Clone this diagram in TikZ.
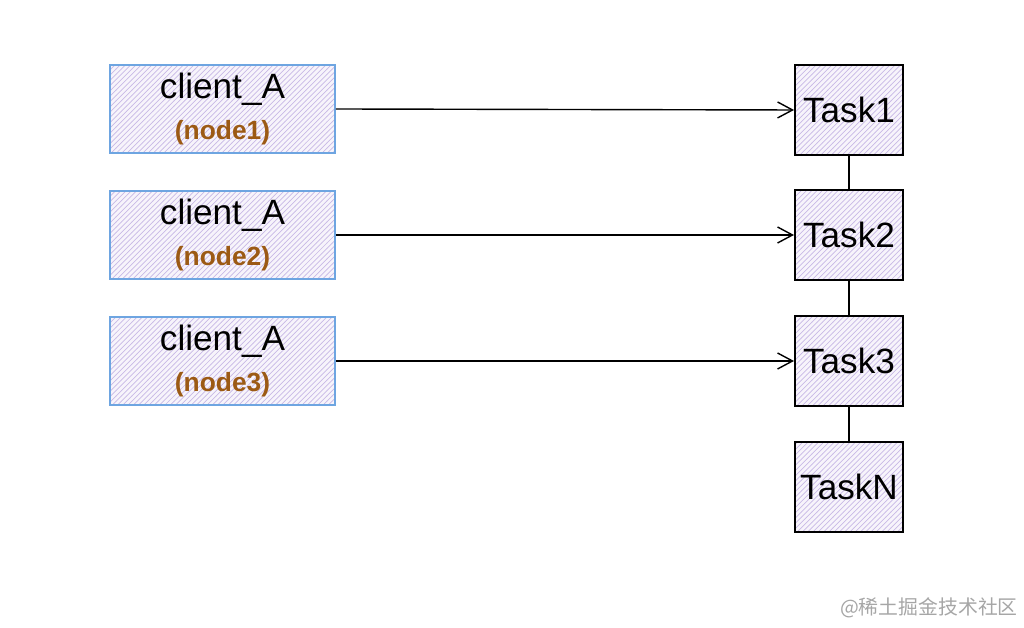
\documentclass[tikz,border=0pt]{standalone}
\usepackage{fontspec}
\setmainfont{Liberation Sans}
\newfontfamily\cjkfont{Noto Sans CJK SC}
\usepackage{tikz}
\usetikzlibrary{positioning, arrows.meta, patterns}

\definecolor{ClientBlue}{RGB}{110,165,225}
\definecolor{NodeBrown}{RGB}{156,90,20}
\definecolor{HatchViolet}{RGB}{200,185,230}

\tikzset{
    hatched/.style={preaction={fill=HatchViolet!15}, pattern=north east lines, pattern color=HatchViolet},
    clientbox/.style={draw=ClientBlue, line width=1.1pt, hatched, minimum width=4.5cm, minimum height=1.76cm, align=center, inner sep=0pt},
    taskbox/.style={draw=black, line width=1.1pt, hatched, minimum width=2.16cm, minimum height=1.8cm, font=\fontsize{20}{24}\selectfont, inner sep=0pt},
    link/.style={line width=0.8pt, -{Straight Barb[length=3mm, width=3.2mm]}},
}

\begin{document}
\begin{tikzpicture}
    \useasboundingbox (0,0) rectangle (20.48,12.56);

    % === clients ===
    \node[clientbox] (c1) at (4.45,10.38) {\fontsize{20}{24}\selectfont client\_A\\[7pt] {\bfseries\fontsize{15}{18}\selectfont\color{NodeBrown}(node1)}};
    \node[clientbox] (c2) at (4.45,7.86) {\fontsize{20}{24}\selectfont client\_A\\[7pt] {\bfseries\fontsize{15}{18}\selectfont\color{NodeBrown}(node2)}};
    \node[clientbox] (c3) at (4.45,5.34) {\fontsize{20}{24}\selectfont client\_A\\[7pt] {\bfseries\fontsize{15}{18}\selectfont\color{NodeBrown}(node3)}};

    % === tasks ===
    \node[taskbox] (t1) at (16.98,10.36) {Task1};
    \node[taskbox] (t2) at (16.98,7.86) {Task2};
    \node[taskbox] (t3) at (16.98,5.34) {Task3};
    \node[taskbox] (tn) at (16.98,2.82) {TaskN};

    % === chain between tasks ===
    \draw[line width=0.9pt] (t1) -- (t2);
    \draw[line width=0.9pt] (t2) -- (t3);
    \draw[line width=0.9pt] (t3) -- (tn);

    % === client -> task ===
    \draw[link] (c1.east) -- (t1.west);
    \draw[link] (c2.east) -- (t2.west);
    \draw[link] (c3.east) -- (t3.west);

    \node[text=black!35, font=\cjkfont\fontsize{11.3}{13}\selectfont] (mark) at (18.58,0.4) {@稀土掘金技术社区};
\end{tikzpicture}
\end{document}
